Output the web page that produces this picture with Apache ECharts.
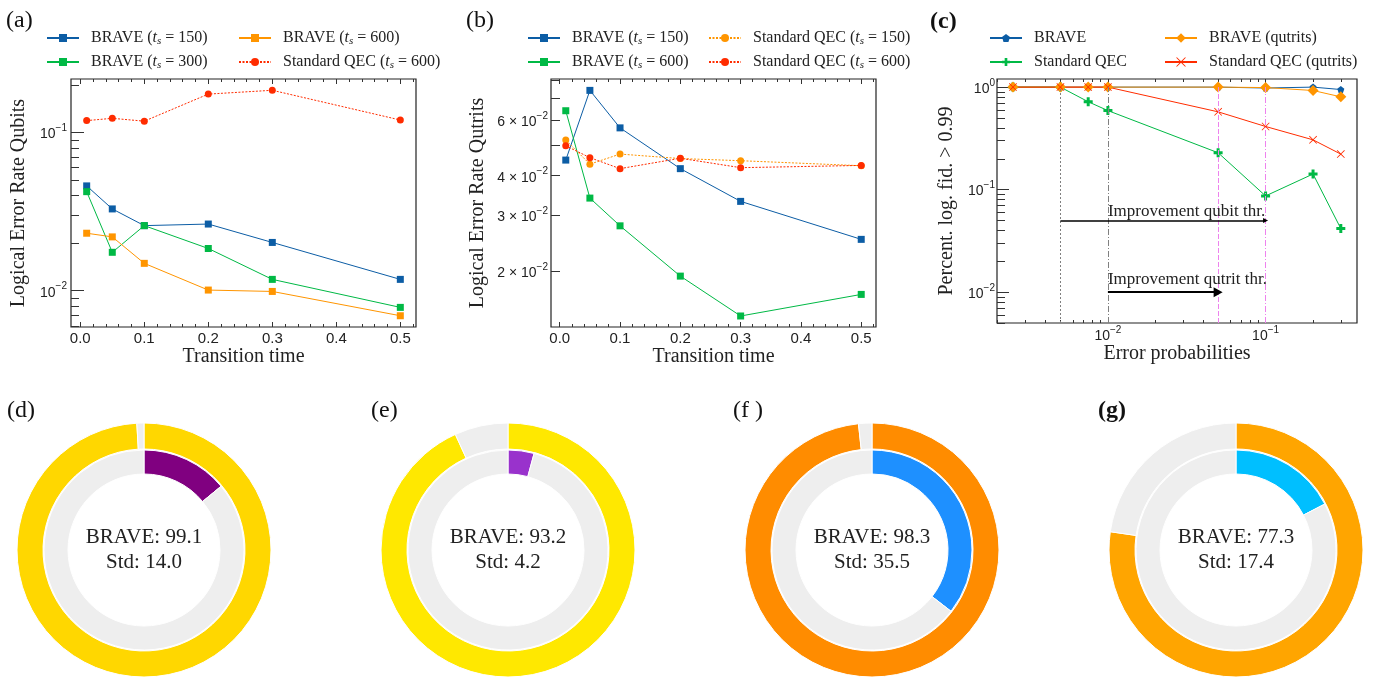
<!DOCTYPE html>
<html>
<head>
<meta charset="utf-8">
<title>BRAVE vs Standard QEC</title>
<script src="https://cdn.jsdelivr.net/npm/echarts@6.0.0/dist/echarts.min.js"></script>
<style>
html, body { margin: 0; padding: 0; background: #fff; }
#chart { width: 1379px; height: 677px; }
</style>
</head>
<body>
<div id="chart"></div>
<script>
// (a) qubits: logical error rate vs transition time
var tA = [0.01, 0.05, 0.1, 0.2, 0.3, 0.5];
var braveA150 = [0.046, 0.0329, 0.0258, 0.0264, 0.0202, 0.0118];
var braveA300 = [0.0423, 0.0175, 0.0258, 0.0185, 0.0118, 0.00785];
var braveA600 = [0.0231, 0.0219, 0.0149, 0.0101, 0.0099, 0.00695];
var stdA600 = [0.119, 0.123, 0.118, 0.175, 0.185, 0.120];

// (b) qutrits
var tB = [0.01, 0.05, 0.1, 0.2, 0.3, 0.5];
var braveB150 = [0.0448, 0.0743, 0.0566, 0.0421, 0.0332, 0.0252];
var braveB600 = [0.0641, 0.0340, 0.0278, 0.0193, 0.01445, 0.0169];
var stdB150 = [0.0518, 0.0435, 0.0468, 0.0453, 0.0446, 0.0430];
var stdB600 = [0.0497, 0.0456, 0.0421, 0.0454, 0.0424, 0.0431];

// (c) share of runs with logical fidelity > 0.99
var pC = [0.0025, 0.005, 0.0075, 0.01, 0.05, 0.1, 0.2, 0.3];
var braveC = [1, 1, 1, 1, 1, 0.98, 1, 0.947];
var stdC = [1, 1, 0.72, 0.59, 0.229, 0.0868, 0.142, 0.0417];
var braveQC = [1, 1, 1, 1, 1, 0.99, 0.927, 0.804];
var stdQC = [1, 1, 1, 1, 0.574, 0.413, 0.306, 0.222];
var thrC = [0.005, 0.01, 0.05, 0.1];

// (d)-(g) donuts
var donutBrave = [99.1, 93.2, 98.3, 77.3];
var donutStd = [14.0, 4.2, 35.5, 17.4];

// tick labels
var xTickAB = [0, 0.1, 0.2, 0.3, 0.4, 0.5];
var yTickA = [0.01, 0.1];
var yTickB = [0.02, 0.03, 0.04, 0.06];
var xTickC = [0.01, 0.1];
var yTickC = [0.01, 0.1, 1];

// axis limits
var xRangeAB = [-0.0145, 0.5245];
var yRangeA = [0.0059, 0.218];
var yRangeB = [0.01334, 0.0807];
var xRangeC = [0.00198, 0.38];
var yRangeC = [0.005, 1.2];

var SERIF = 'Liberation Serif';
var SANS = 'Liberation Sans';
var INK = '#222';
var GRAY = '#EEEEEE';
var BLUE = '#0C5DA5', GREEN = '#00B945', ORANGE = '#FF9500', RED = '#FF2C00';
var donutOuter = ['#FFD700', '#FFE800', '#FF8C00', '#FFA500'];
var donutInner = ['#800080', '#9932CC', '#1E90FF', '#00BFFF'];
var donutX = [144, 508, 872, 1236];

var PENTAGON = 'path://M0,-1L0.951,-0.309L0.588,0.809L-0.588,0.809L-0.951,-0.309Z';
var PLUS = 'path://M-1,-0.33L-0.33,-0.33L-0.33,-1L0.33,-1L0.33,-0.33L1,-0.33L1,0.33L0.33,0.33L0.33,1L-0.33,1L-0.33,0.33L-1,0.33Z';
var CROSS = 'path://M-1,-0.86L-0.86,-1L0,-0.14L0.86,-1L1,-0.86L0.14,0L1,0.86L0.86,1L0,0.14L-0.86,1L-1,0.86L-0.14,0Z';

var lg = Math.log10;
var xAxes = [], yAxes = [], series = [];

function add(list, cfg) {
  list.push(cfg);
  return list.length - 1;
}

var supRich = {
  b: { fontFamily: SANS, fontSize: 14, color: INK, padding: [4, 0, 0, 0] },
  s: { fontFamily: SANS, fontSize: 10, color: INK, verticalAlign: 'top' }
};

function expLabel(v) {
  var e = Math.floor(v + 1e-9);
  var m = Math.round(Math.pow(10, v - e));
  var head = m === 1 ? '10' : m + ' × 10';
  return '{b|' + head + '}{s|' + String(e).replace('-', '−') + '}';
}

// axis that carries the data, not drawn
function dataAxis(grid, type, range) {
  return { type: type, gridIndex: grid, min: range[0], max: range[1], show: false, axisLine: { onZero: false } };
}

// axis only used for ticks / labels
function tickAxis(grid, pos, range, ticks, len, label) {
  var ax = {
    type: 'value', gridIndex: grid, position: pos, min: range[0], max: range[1],
    axisLine: { show: false, onZero: false },
    splitLine: { show: false },
    axisTick: { show: true, inside: true, length: len, customValues: ticks, lineStyle: { color: '#333', width: 1 } },
    axisLabel: { show: false }
  };
  if (label) {
    ax.axisLabel = Object.assign({ show: true, customValues: ticks, margin: 4, color: INK, fontFamily: SANS, fontSize: 15 }, label);
  }
  return ax;
}

function minorLog(r) {
  var out = [];
  for (var e = -4; e <= 1; e++) {
    for (var k = 2; k <= 9; k++) {
      var v = lg(k * Math.pow(10, e));
      if (v >= r[0] && v <= r[1]) out.push(v);
    }
  }
  return out;
}

function minorLinear(r) {
  var out = [];
  for (var k = -1; k <= 27; k++) {
    var v = +(k * 0.02).toFixed(2);
    if (k % 5 !== 0 && v >= r[0] && v <= r[1]) out.push(v);
  }
  return out;
}

function axisName(text, gap) {
  return {
    name: text, nameLocation: 'middle', nameGap: gap,
    nameTextStyle: { fontFamily: SERIF, fontSize: 20, color: INK }
  };
}

function buildPanel(p) {
  var xr = p.xLog ? p.xRange.map(lg) : p.xRange;
  var yr = p.yRange.map(lg);
  var xi = add(xAxes, dataAxis(p.grid, p.xLog ? 'log' : 'value', p.xRange));
  var yi = add(yAxes, dataAxis(p.grid, 'log', p.yRange));

  var xMaj = p.xLog ? p.xTicks.map(lg) : p.xTicks;
  var xMin = p.xLog ? minorLog(xr) : minorLinear(xr);
  var xLab = p.xLog
    ? { formatter: expLabel, rich: supRich, margin: 2 }
    : { formatter: function (v) { return v.toFixed(1); }, margin: 4 };
  add(xAxes, Object.assign(tickAxis(p.grid, 'bottom', xr, xMaj, 5, xLab), axisName(p.xName, 20)));
  add(xAxes, tickAxis(p.grid, 'bottom', xr, xMin, 3));
  add(xAxes, tickAxis(p.grid, 'top', xr, xMaj, 5));
  add(xAxes, tickAxis(p.grid, 'top', xr, xMin, 3));

  var yLab = { formatter: expLabel, rich: supRich, margin: p.yMargin };
  add(yAxes, Object.assign(tickAxis(p.grid, 'left', yr, p.yTicks.map(lg), p.yLen[0], yLab), axisName(p.yName, p.yNameGap)));
  add(yAxes, tickAxis(p.grid, 'left', yr, minorLog(yr), p.yLen[1]));
  return [xi, yi];
}

function lineSeries(name, ax, xs, ys, color, symbol, size, dash) {
  return {
    name: name, type: 'line', xAxisIndex: ax[0], yAxisIndex: ax[1],
    data: xs.map(function (x, i) { return [x, ys[i]]; }),
    symbol: symbol, symbolSize: size, showSymbol: true,
    lineStyle: { color: color, width: 1, type: dash || 'solid' },
    itemStyle: { color: color },
    emphasis: { disabled: true },
    silent: true, z: 3
  };
}

var grids = [
  { left: 71, top: 79, width: 345, height: 248 },
  { left: 551, top: 79, width: 325, height: 248 },
  { left: 997, top: 79, width: 360, height: 244 }
].map(function (g) {
  return Object.assign({ show: true, borderColor: '#222', borderWidth: 1.2, backgroundColor: 'transparent' }, g);
});

var axA = buildPanel({ grid: 0, xLog: false, xRange: xRangeAB, yRange: yRangeA, xTicks: xTickAB, yTicks: yTickA,
  xName: 'Transition time', yName: 'Logical Error Rate Qubits', yNameGap: 42, yLen: [13, 8], yMargin: 4 });
var axB = buildPanel({ grid: 1, xLog: false, xRange: xRangeAB, yRange: yRangeB, xTicks: xTickAB, yTicks: yTickB,
  xName: 'Transition time', yName: 'Logical Error Rate Qutrits', yNameGap: 63, yLen: [9, 9], yMargin: 3 });
var axC = buildPanel({ grid: 2, xLog: true, xRange: xRangeC, yRange: yRangeC, xTicks: xTickC, yTicks: yTickC,
  xName: 'Error probabilities', yName: 'Percent. log. fid. > 0.99', yNameGap: 40, yLen: [12, 8], yMargin: 2 });

var DOTS = [2, 1.5];

series.push(lineSeries('a150', axA, tA, braveA150, BLUE, 'rect', 7));
series.push(lineSeries('a300', axA, tA, braveA300, GREEN, 'rect', 7));
series.push(lineSeries('a600', axA, tA, braveA600, ORANGE, 'rect', 7));
series.push(lineSeries('aStd600', axA, tA, stdA600, RED, 'circle', 7, DOTS));

series.push(lineSeries('b150', axB, tB, braveB150, BLUE, 'rect', 7));
series.push(lineSeries('b600', axB, tB, braveB600, GREEN, 'rect', 7));
series.push(lineSeries('bStd150', axB, tB, stdB150, ORANGE, 'circle', 7, DOTS));
series.push(lineSeries('bStd600', axB, tB, stdB600, RED, 'circle', 7, DOTS));

series.push(lineSeries('cBrave', axC, pC, braveC, BLUE, PENTAGON, 7));
var cStd = lineSeries('cStd', axC, pC, stdC, GREEN, PLUS, 9);
series.push(cStd);
series.push(lineSeries('cBraveQ', axC, pC, braveQC, ORANGE, 'diamond', 11));
series.push(lineSeries('cStdQ', axC, pC, stdQC, RED, CROSS, 8));

// threshold lines and arrows in (c)
function vLine(x, color, type) {
  return [
    { coord: [x, yRangeC[0]], lineStyle: { color: color, type: type, width: 1 } },
    { coord: [x, 1] }
  ];
}
function arrow(x0, x1, y, width, head) {
  return [
    { coord: [x0, y], symbol: 'none', lineStyle: { color: '#000', type: 'solid', width: width } },
    { coord: [x1, y], symbol: 'triangle', symbolSize: head }
  ];
}
cStd.markLine = {
  silent: true, symbol: 'none', animation: false,
  label: { show: false },
  data: [
    vLine(thrC[0], '#808080', [2, 2]),
    vLine(thrC[1], '#808080', [6, 2, 1, 2]),
    vLine(thrC[2], '#EE82EE', [5, 2]),
    vLine(thrC[3], '#EE82EE', [6, 2, 1, 2]),
    arrow(thrC[0], thrC[3], 0.05, 1.5, [5, 5]),
    arrow(thrC[1], thrC[2], 0.01, 2, [10, 9])
  ]
};
cStd.markPoint = {
  silent: true, symbol: 'circle', symbolSize: 0, animation: false,
  label: { show: true, position: 'right', distance: 0, formatter: '{b}', fontFamily: SERIF, fontSize: 17, color: INK },
  data: [
    { name: 'Improvement qubit thr.', coord: [thrC[1], 0.0607] },
    { name: 'Improvement qutrit thr.', coord: [thrC[1], 0.0132] }
  ]
};

// donuts
donutBrave.forEach(function (b, i) {
  var s = donutStd[i];
  var base = {
    type: 'pie', center: [donutX[i], 550], startAngle: 90, clockwise: true,
    silent: true, animation: false, emphasis: { disabled: true },
    label: { show: false }, labelLine: { show: false },
    itemStyle: { borderColor: '#fff', borderWidth: 1 }
  };
  series.push(Object.assign({}, base, {
    radius: [101, 127],
    data: [
      { value: b, itemStyle: { color: donutOuter[i] } },
      { value: 100 - b, itemStyle: { color: GRAY } }
    ]
  }));
  series.push(Object.assign({}, base, {
    radius: [76, 100],
    data: [
      { value: s, itemStyle: { color: donutInner[i] },
        label: { show: true, position: 'center', formatter: 'BRAVE: ' + b.toFixed(1) + '\nStd: ' + s.toFixed(1),
          fontFamily: SERIF, fontSize: 21, lineHeight: 25, color: INK } },
      { value: 100 - s, itemStyle: { color: GRAY } }
    ]
  }));
});

var legendText = {
  a150: 'BRAVE ({t|t}{s|s} = 150)',
  a300: 'BRAVE ({t|t}{s|s} = 300)',
  a600: 'BRAVE ({t|t}{s|s} = 600)',
  aStd600: 'Standard QEC ({t|t}{s|s} = 600)',
  b150: 'BRAVE ({t|t}{s|s} = 150)',
  b600: 'BRAVE ({t|t}{s|s} = 600)',
  bStd150: 'Standard QEC ({t|t}{s|s} = 150)',
  bStd600: 'Standard QEC ({t|t}{s|s} = 600)',
  cBrave: 'BRAVE',
  cStd: 'Standard QEC',
  cBraveQ: 'BRAVE (qutrits)',
  cStdQ: 'Standard QEC (qutrits)'
};

function legendCol(left, names, ih) {
  return {
    orient: 'vertical', left: left, top: 29, padding: 0,
    itemWidth: 32, itemHeight: ih, itemGap: 6, selectedMode: false,
    data: names,
    formatter: function (n) { return legendText[n]; },
    textStyle: {
      fontFamily: SERIF, fontSize: 16, lineHeight: 18, color: INK, padding: [0, 0, 0, 7],
      rich: {
        t: { fontFamily: SERIF, fontSize: 16, fontStyle: 'italic', color: INK },
        s: { fontFamily: SERIF, fontSize: 11, fontStyle: 'italic', color: INK, verticalAlign: 'bottom' }
      }
    }
  };
}

var panelTitles = [
  ['(a)', 6, 9, false], ['(b)', 466, 9, false], ['(c)', 930, 10, true],
  ['(d)', 7, 399, false], ['(e)', 371, 399, false], ['(f )', 733, 399, false], ['(g)', 1098, 399, true]
];

var option = {
  backgroundColor: '#fff',
  animation: false,
  title: panelTitles.map(function (p) {
    return { text: p[0], left: p[1], top: p[2], padding: 0,
      textStyle: { fontFamily: SERIF, fontSize: 24, fontWeight: p[3] ? 'bold' : 'normal', color: '#111' } };
  }),
  legend: [
    legendCol(46, ['a150', 'a300'], 10),
    legendCol(238, ['a600', 'aStd600'], 10),
    legendCol(527, ['b150', 'b600'], 10),
    legendCol(708, ['bStd150', 'bStd600'], 10),
    legendCol(989, ['cBrave', 'cStd'], 10),
    legendCol(1164, ['cBraveQ', 'cStdQ'], 12)
  ],
  grid: grids,
  xAxis: xAxes,
  yAxis: yAxes,
  series: series
};

var chart = echarts.init(document.getElementById('chart'));
chart.setOption(option);
</script>
</body>
</html>
